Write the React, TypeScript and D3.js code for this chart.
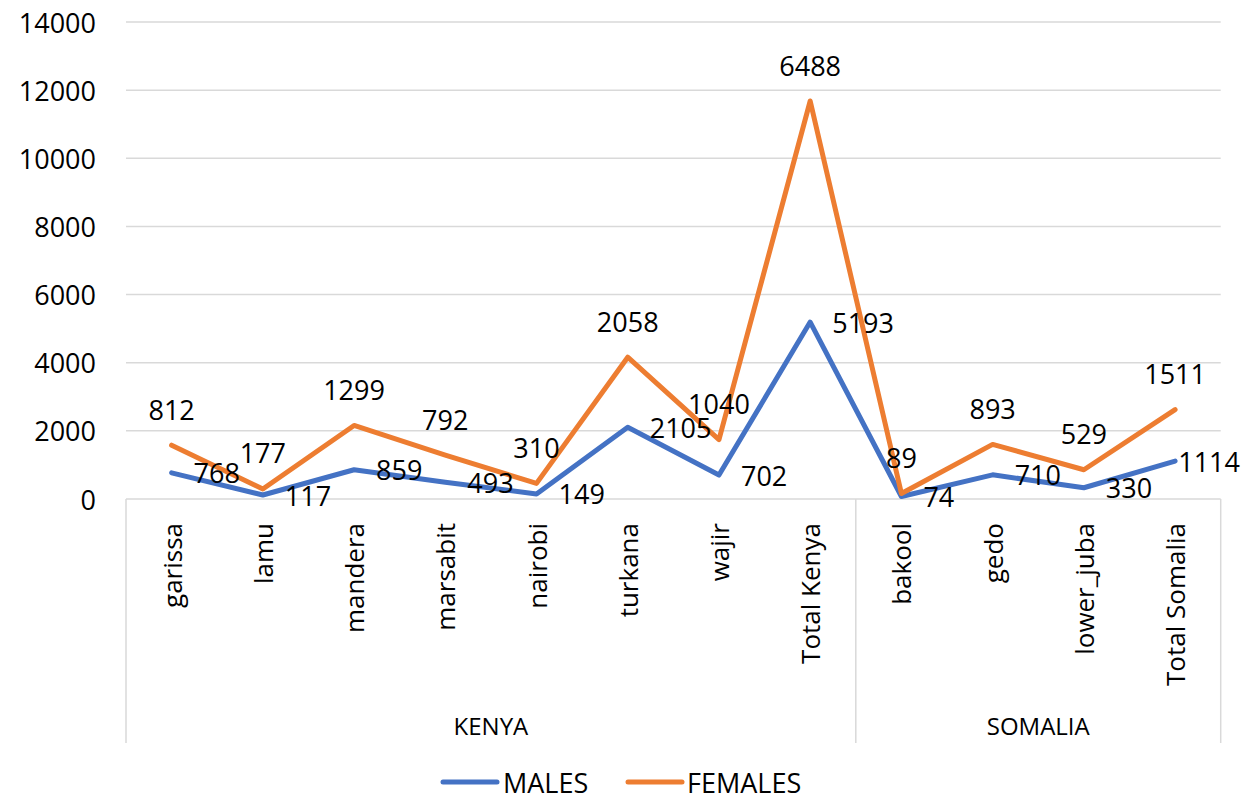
import React from 'react';
import * as d3 from 'd3';

const categories = [
  'garissa', 'lamu', 'mandera', 'marsabit', 'nairobi', 'turkana', 'wajir', 'Total Kenya',
  'bakool', 'gedo', 'lower_juba', 'Total Somalia',
];
const groupNames = ['KENYA', 'SOMALIA'];
const groupSizes = [8, 4];
const males = [768, 117, 859, 493, 149, 2105, 702, 5193, 74, 710, 330, 1114];
const females = [812, 177, 1299, 792, 310, 2058, 1040, 6488, 89, 893, 529, 1511];
const yTicks = [0, 2000, 4000, 6000, 8000, 10000, 12000, 14000];

const W = 1242;
const H = 795;
const left = 126;
const right = 1220.7;
const top = 22;
const bottom = 499;
const groupBottom = 743;
const FONT = '"Open Sans", sans-serif';
const BLUE = '#4472C4';
const ORANGE = '#ED7D31';
const GRID = '#d9d9d9';

export default function App() {
  const x = d3.scaleBand().domain(categories).range([left, right]).padding(0);
  const y = d3.scaleLinear().domain([0, 14000]).range([bottom, top]);
  const cx = (c: string) => (x(c) as number) + x.bandwidth() / 2;

  const rows = categories.map((c, i) => ({ cat: c, MALES: males[i], FEMALES: females[i] }));
  const stacked = d3.stack<any>().keys(['MALES', 'FEMALES'])(rows);

  const line = d3
    .line<any>()
    .x((d) => cx(d.data.cat))
    .y((d) => y(d[1]));

  // group boundaries
  let start = 0;
  const groups = groupNames.map((name, gi) => {
    const first = categories[start];
    const last = categories[start + groupSizes[gi] - 1];
    const x0 = x(first) as number;
    const x1 = (x(last) as number) + x.bandwidth();
    start += groupSizes[gi];
    return { name, x0, x1 };
  });
  const bounds = Array.from(new Set(groups.flatMap((g) => [g.x0, g.x1])));

  const fs = 27;
  // right-side labels get pushed back inside the chart like Excel does
  const rightLabelX = (px: number, v: number) => {
    const w = String(v).length * fs * 0.572;
    return Math.min(px + 22, W - 2 - w);
  };

  return (
    <svg width={W} height={H} style={{ position: 'absolute', left: 0, top: 0 }} fontFamily={FONT}>
      <rect width={W} height={H} fill="#fff" />
      {yTicks.map((t) => (
        <g key={t}>
          <line x1={left} x2={right} y1={y(t)} y2={y(t)} stroke={GRID} strokeWidth={1.5} />
          <text x={96} y={y(t)} textAnchor="end" dominantBaseline="central" fontSize={fs} fill="#000">
            {t}
          </text>
        </g>
      ))}
      {bounds.map((b, i) => (
        <line key={i} x1={b} x2={b} y1={bottom} y2={groupBottom} stroke={GRID} strokeWidth={1.5} />
      ))}
      {categories.map((c) => (
        <text
          key={c}
          transform={`translate(${cx(c)},523) rotate(-90)`}
          textAnchor="end"
          dominantBaseline="central"
          fontSize={fs - 1}
          fill="#000"
        >
          {c}
        </text>
      ))}
      {groups.map((g) => (
        <text
          key={g.name}
          x={(g.x0 + g.x1) / 2}
          y={725}
          textAnchor="middle"
          dominantBaseline="central"
          fontSize={fs - 3}
          fill="#000"
        >
          {g.name}
        </text>
      ))}
      <path d={line(stacked[0] as any) || ''} fill="none" stroke={BLUE} strokeWidth={5} strokeLinejoin="round" strokeLinecap="round" />
      <path d={line(stacked[1] as any) || ''} fill="none" stroke={ORANGE} strokeWidth={5} strokeLinejoin="round" strokeLinecap="round" />
      {stacked[0].map((d: any, i) => (
        <text
          key={'m' + i}
          x={rightLabelX(cx(d.data.cat), males[i])}
          y={y(d[1])}
          dominantBaseline="central"
          fontSize={fs}
          fill="#000"
        >
          {males[i]}
        </text>
      ))}
      {stacked[1].map((d: any, i) => (
        <text
          key={'f' + i}
          x={cx(d.data.cat)}
          y={y(d[1]) - 36}
          textAnchor="middle"
          dominantBaseline="central"
          fontSize={fs}
          fill="#000"
        >
          {females[i]}
        </text>
      ))}
      <g transform="translate(0,782)">
        <line x1={443} x2={497} stroke={BLUE} strokeWidth={5} strokeLinecap="round" />
        <text x={503} y={0} dominantBaseline="central" fontSize={fs} fill="#000">MALES</text>
        <line x1={628} x2={682} stroke={ORANGE} strokeWidth={5} strokeLinecap="round" />
        <text x={687} y={0} dominantBaseline="central" fontSize={fs} fill="#000">FEMALES</text>
      </g>
    </svg>
  );
}
